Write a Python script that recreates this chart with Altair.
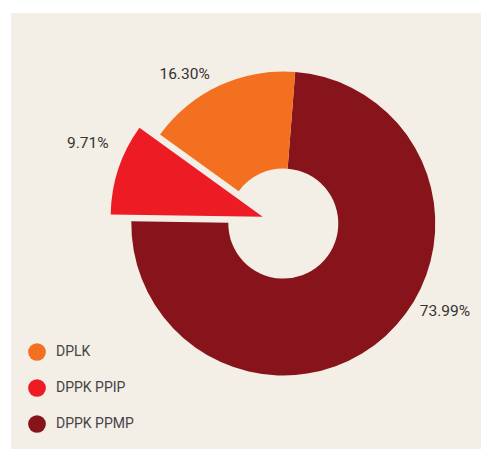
import math
import altair as alt
import pandas as pd

# ---- data ----
categories = ["DPPK PPMP", "DPPK PPIP", "DPLK"]
shares = [73.99, 9.71, 16.30]
labels = ["73.99%", "9.71%", "16.30%"]
slice_order = [1, 2, 3]
legend_order = ["DPLK", "DPPK PPIP", "DPPK PPMP"]
palette = ["#F37021", "#ED1C24", "#87141A"]

df = pd.DataFrame({"category": categories, "share": shares,
                   "label": labels, "ord": slice_order})

# ---- layout / style ----
W, H = 473, 441
CX, CY = 275.3, 215.5
R_OUT, R_IN = 152, 55
START = math.radians(4.5)
EXPLODE = 21.7
FONT = "Roboto, sans-serif"
BEIGE = "#F3EEE6"
TXT = "#333333"

total = sum(shares)
red_mid = START + 2 * math.pi * (shares[0] + shares[1] / 2) / total
ex_dx = EXPLODE * math.sin(red_mid)
ex_dy = -EXPLODE * math.cos(red_mid)

theta = alt.Theta("share:Q", stack=True,
                  scale=alt.Scale(range=[START, START + 2 * math.pi]))
order = alt.Order("ord:Q")
color = alt.Color(
    "category:N",
    scale=alt.Scale(domain=legend_order, range=palette),
    legend=alt.Legend(
        title=None, orient="none", legendX=20, legendY=335,
        symbolType="circle", symbolSize=314, symbolStrokeWidth=0,
        symbolOpacity=1, labelFont=FONT, labelFontSize=14,
        labelColor="#444444", labelOffset=10, rowPadding=18,
    ),
)

bg = alt.Chart(pd.DataFrame({"a": [0]})).mark_rect(color=BEIGE).encode(
    x=alt.value(3), x2=alt.value(W), y=alt.value(5), y2=alt.value(H)
)

base = alt.Chart(df)

donut = base.mark_arc(innerRadius=R_IN, outerRadius=R_OUT).encode(
    theta=theta, order=order, color=color,
    fillOpacity=alt.condition(alt.datum.category == "DPPK PPIP",
                              alt.value(0), alt.value(1)),
    x=alt.value(CX), y=alt.value(CY),
)

exploded = base.mark_arc(innerRadius=0, outerRadius=R_OUT).encode(
    theta=theta, order=order, color=color,
    fillOpacity=alt.condition(alt.datum.category == "DPPK PPIP",
                              alt.value(1), alt.value(0)),
    x=alt.value(CX + ex_dx), y=alt.value(CY + ex_dy),
)


def label_layer(cat, dx, dy):
    return base.mark_text(
        radius=185, dx=dx, dy=dy, font=FONT, fontSize=15.5, color=TXT,
        align="center", baseline="middle",
    ).encode(
        theta=theta, order=order, text="label:N",
        opacity=alt.condition(alt.datum.category == cat,
                              alt.value(1), alt.value(0)),
        x=alt.value(CX), y=alt.value(CY),
    )


t1 = label_layer("DPPK PPMP", 37, -49)
t2 = label_layer("DPPK PPIP", -20, -22)
t3 = label_layer("DPLK", -21, 18)

chart = alt.layer(bg, donut, exploded, t1, t2, t3).properties(
    width=W, height=H, padding=0, autosize="none", background="white"
).configure_view(stroke=None)

chart.save("out.html", embed_options={"renderer": "svg", "actions": False})
